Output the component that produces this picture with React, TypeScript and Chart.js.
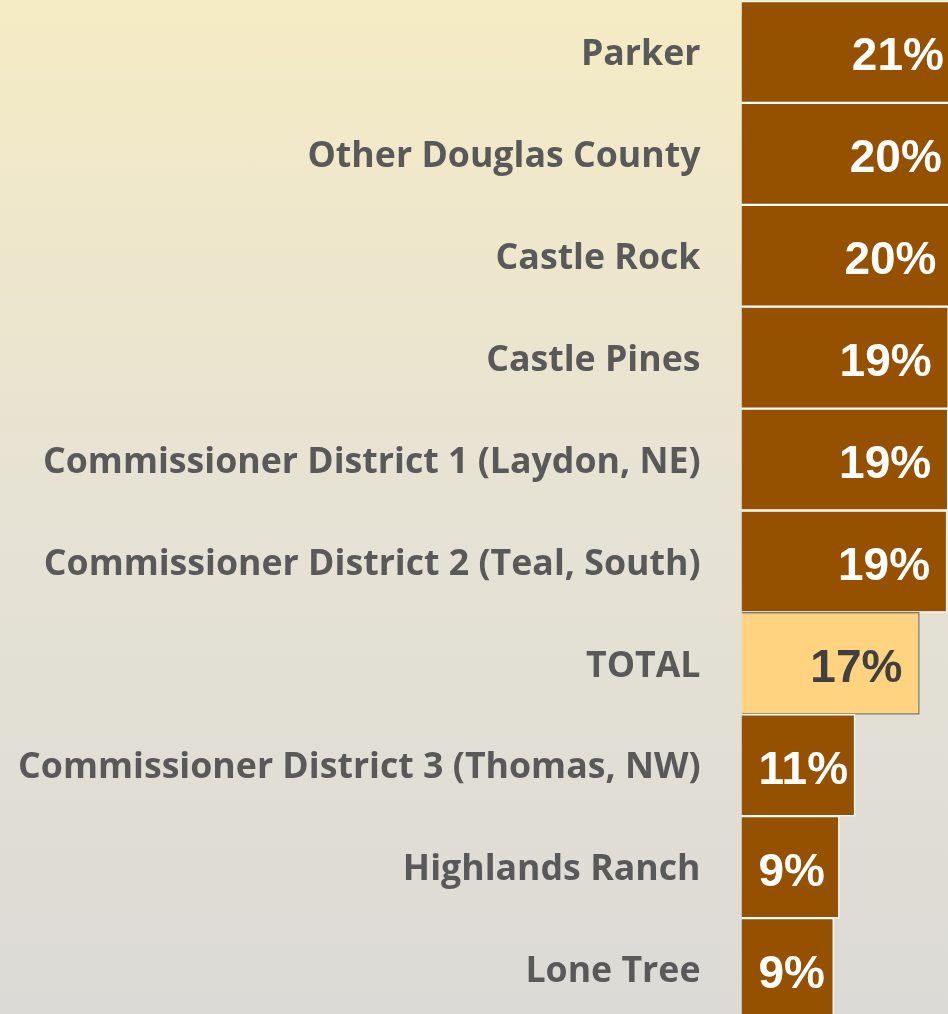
import React, { useEffect, useRef } from "react";
import { Chart, registerables } from "chart.js";

Chart.register(...registerables);

const categories = [
  "Parker",
  "Other Douglas County",
  "Castle Rock",
  "Castle Pines",
  "Commissioner District 1 (Laydon, NE)",
  "Commissioner District 2 (Teal, South)",
  "TOTAL",
  "Commissioner District 3 (Thomas, NW)",
  "Highlands Ranch",
  "Lone Tree",
];

const values = [20.6, 20.4, 19.9, 19.45, 19.4, 19.3, 16.7, 10.66, 9.18, 8.66];

const BROWN = "#955000";
const TOTAL_FILL = "#FFD37F";

const valueLabelPlugin = {
  id: "valueLabels",
  afterDatasetsDraw(chart: any) {
    const ctx = chart.ctx;
    const meta = chart.getDatasetMeta(0);
    ctx.save();
    ctx.font = 'bold 46px "Liberation Sans", Arial, sans-serif';
    ctx.textAlign = "right";
    ctx.textBaseline = "alphabetic";
    meta.data.forEach((bar: any, i: number) => {
      const text = Math.round(values[i]) + "%";
      const w = ctx.measureText(text).width;
      const right = Math.max(bar.x - 17, bar.base + 17 + w);
      ctx.fillStyle = categories[i] === "TOTAL" ? "#404040" : "#FFFFFF";
      ctx.fillText(text, right, bar.y + 18.5);
    });
    ctx.restore();
  },
};

export default function App() {
  const ref = useRef<HTMLCanvasElement | null>(null);

  useEffect(() => {
    document.body.style.margin = "0";
    document.documentElement.style.overflow = "hidden";
    const canvas = ref.current!;
    const chart = new Chart(canvas, {
      type: "bar",
      data: {
        labels: categories,
        datasets: [
          {
            data: values,
            backgroundColor: categories.map((c) => (c === "TOTAL" ? TOTAL_FILL : BROWN)),
            borderColor: categories.map((c) => (c === "TOTAL" ? "#7F7F7F" : "#FFFFFF")),
            borderWidth: 1.5,
            categoryPercentage: 1,
            barPercentage: 1,
          },
        ],
      },
      options: {
        indexAxis: "y",
        responsive: false,
        animation: false,
        devicePixelRatio: 1,
        layout: { padding: { top: 1, bottom: 0, left: 0, right: 0 } },
        plugins: {
          legend: { display: false },
          tooltip: { enabled: false },
        },
        scales: {
          x: {
            display: false,
            min: 0,
            max: 23.33,
          },
          y: {
            afterFit(scale: any) {
              scale.width = 741.5;
              scale.paddingTop = 0;
              scale.paddingBottom = 0;
            },
            grid: { display: false, drawTicks: false },
            border: { display: false },
            ticks: {
              padding: 41,
              labelOffset: 3,
              color: "#595959",
              font: { family: '"Open Sans", sans-serif', weight: "bold", size: 35.7 },
            },
          },
        },
      },
      plugins: [valueLabelPlugin],
    } as any);
    return () => chart.destroy();
  }, []);

  return (
    <div
      style={{
        position: "fixed",
        left: 0,
        top: 0,
        width: 948,
        height: 1014,
        overflow: "hidden",
        background: "linear-gradient(to bottom, #F5EBC4 0%, #E6E2D4 50%, #DCDAD6 100%)",
      }}
    >
      <canvas ref={ref} width={990} height={1020} style={{ display: "block", width: 990, height: 1020 }} />
    </div>
  );
}
